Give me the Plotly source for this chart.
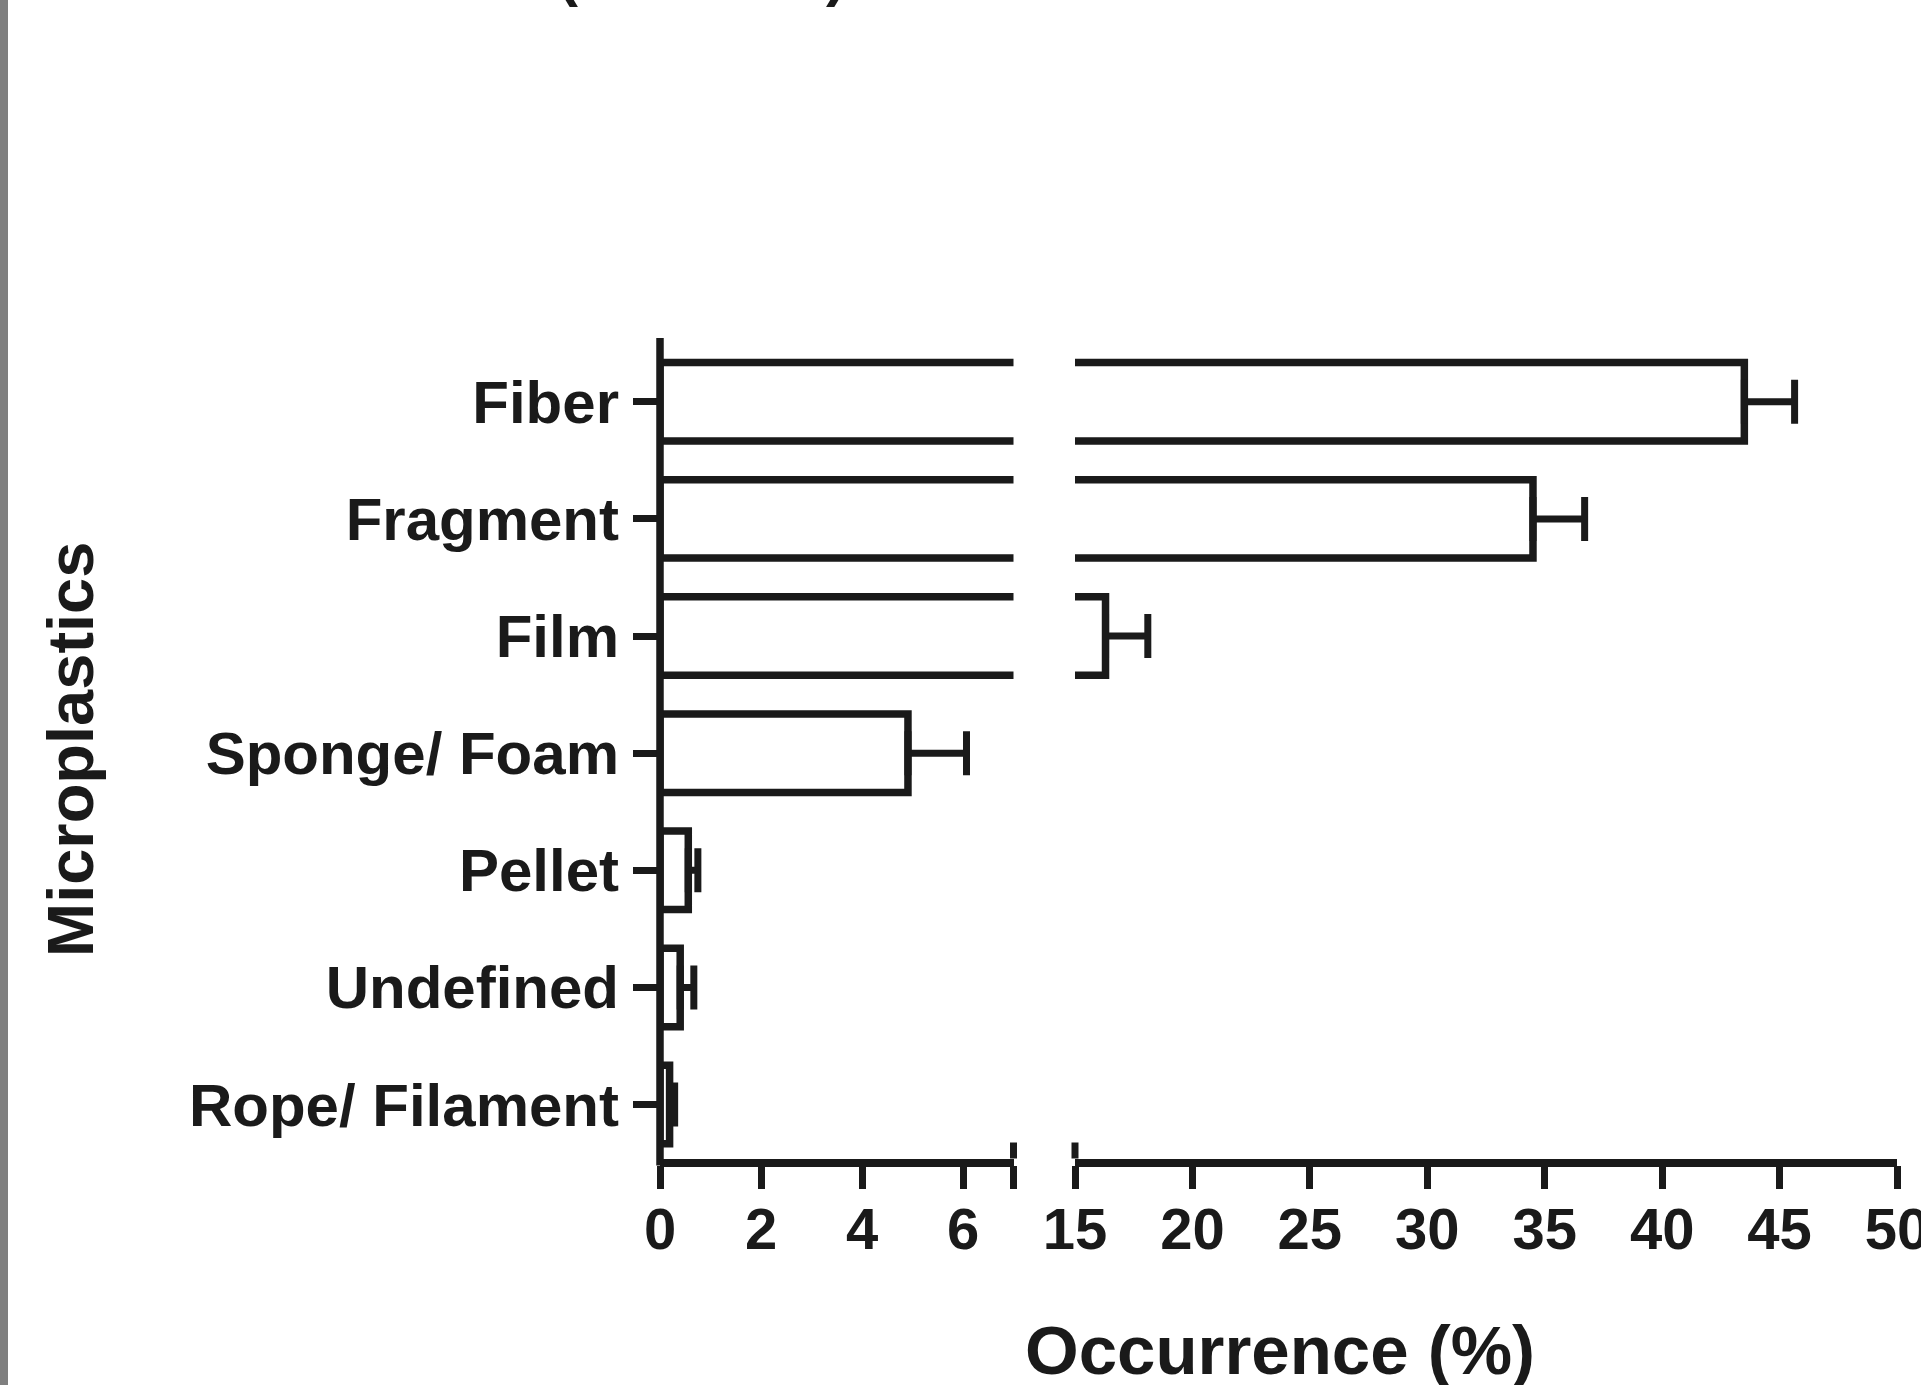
import plotly.graph_objects as go

# ---------------- data ----------------
categories = ["Rope/ Filament", "Undefined", "Pellet", "Sponge/ Foam", "Film", "Fragment", "Fiber"]
occurrence = [0.19, 0.40, 0.56, 4.91, 16.3, 34.5, 43.5]
error_plus = [0.10, 0.27, 0.19, 1.16, 1.8, 2.2, 2.14]
error_minus = [0, 0, 0, 0, 0, 0, 0]

left_ticks = [0, 2, 4, 6, 7]
left_ticktext = ["0", "2", "4", "6", ""]
right_ticks = [15, 20, 25, 30, 35, 40, 45, 50]
right_ticktext = ["15", "20", "25", "30", "35", "40", "45", "50"]

x_title = "Occurrence (%)"
y_title = "Microplastics"

# ---------------- layout geometry (pixels) ----------------
W, H = 1921, 1385
INK = "#1a1a1a"
FONT = "Liberation Sans, Arial, sans-serif"
LW = 7.5


def px(x):
    return x / W


def py(y):
    return 1 - y / H


xdom1 = [px(660), px(1013.5)]
xdom2 = [px(1075), px(1897)]
ydom = [py(1158.5), py(338)]

fig = go.Figure()

for xa in ["x", "x2"]:
    fig.add_trace(go.Bar(
        y=categories, x=occurrence, orientation="h",
        xaxis=xa, yaxis="y",
        width=0.67,
        marker=dict(color="white", line=dict(color=INK, width=LW)),
        error_x=dict(type="data", symmetric=False, array=error_plus,
                     arrayminus=error_minus, visible=True,
                     color=INK, thickness=7, width=22),
        showlegend=False, hoverinfo="skip",
    ))

axis_common = dict(
    showline=True, linecolor=INK, linewidth=LW,
    ticks="outside", ticklen=23, tickwidth=7, tickcolor=INK,
    showgrid=False, zeroline=False, automargin=False,
    ticklabelstandoff=-10, ticklabeloverflow="allow",
    tickfont=dict(family=FONT, size=58, color=INK, weight="bold"),
)

fig.update_layout(
    width=W, height=H,
    margin=dict(l=0, r=0, t=0, b=0, pad=0),
    paper_bgcolor="white", plot_bgcolor="white",
    xaxis=dict(domain=xdom1, range=[0, 7], tickmode="array",
               tickvals=left_ticks, ticktext=left_ticktext, anchor="y",
               **axis_common),
    xaxis2=dict(domain=xdom2, range=[15, 50], tickmode="array",
                tickvals=right_ticks, ticktext=right_ticktext, anchor="y",
                **axis_common),
    yaxis=dict(domain=ydom, type="category", categoryorder="array",
               categoryarray=categories, range=[-0.46, 6.544], anchor="x",
               showline=False,
               ticks="outside", ticklen=26, tickwidth=7, tickcolor=INK,
               showgrid=False, zeroline=False, automargin=False,
               ticklabelstandoff=2,
               tickfont=dict(family=FONT, size=60, color=INK, weight="bold")),
)

# y-axis line drawn on the zero of the left x axis
fig.add_shape(type="line", xref="paper", yref="paper",
              x0=xdom1[0], x1=xdom1[0], y0=ydom[0] - 7 / H, y1=ydom[1],
              line=dict(color=INK, width=LW))

# axis-break end ticks (upward stubs)
for xv in [xdom1[1], xdom2[0]]:
    fig.add_shape(type="line", xref="paper", yref="paper",
                  x0=xv, x1=xv, y0=ydom[0], y1=ydom[0] + 16 / H,
                  line=dict(color=INK, width=7))

# grey strip at the left edge of the page
fig.add_shape(type="rect", xref="paper", yref="paper",
              x0=0, x1=px(8), y0=0, y1=1,
              fillcolor="#7f7f7f", line=dict(width=0), layer="below")

# axis titles
fig.add_annotation(text=y_title, x=px(70), y=py(750), xref="paper", yref="paper",
                   textangle=-90, showarrow=False, xanchor="center", yanchor="middle",
                   font=dict(family=FONT, size=65, color=INK, weight="bold"))
fig.add_annotation(text=x_title, x=px(1280), y=py(1350), xref="paper", yref="paper",
                   showarrow=False, xanchor="center", yanchor="middle",
                   font=dict(family=FONT, size=69, color=INK, weight="bold"))

# cut-off heading at the very top (only the bottoms of the brackets show)
for t, xx in [("(", 568), (")", 836)]:
    fig.add_annotation(text=t, x=px(xx), y=py(10), xref="paper", yref="paper",
                       showarrow=False, xanchor="center", yanchor="bottom",
                       font=dict(family=FONT, size=60, color=INK, weight="bold"))

fig.write_html("out.html", config={"displayModeBar": False},
               post_script="document.body.style.margin='0';")
